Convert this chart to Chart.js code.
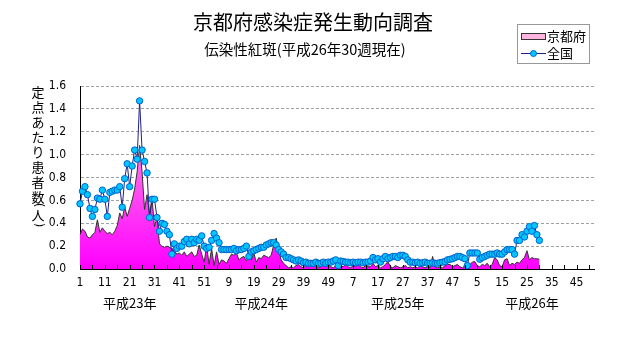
<!DOCTYPE html>
<html lang="ja">
<head>
<meta charset="utf-8">
<title>京都府感染症発生動向調査</title>
<script src="https://cdn.jsdelivr.net/npm/chart.js@4.4.1/dist/chart.umd.min.js"></script>
<style>
  html, body { margin: 0; padding: 0; background: #fff; }
  canvas { display: block; }
</style>
</head>
<body>
<canvas id="chart" width="631" height="347"></canvas>
<script>
/* ── 伝染性紅斑 定点あたり患者数 (京都府 / 全国) ───────────── */
const titleText    = "京都府感染症発生動向調査";
const subtitleText = "伝染性紅斑(平成26年30週現在)";
const yTitleChars  = ["定","点","あ","た","り","患","者","数"];
const years        = ["平成23年","平成24年","平成25年","平成26年"];
const weeksPerYear = 52;
const yTicks       = [0, 0.2, 0.4, 0.6, 0.8, 1.0, 1.2, 1.4, 1.6];

// 京都府 (weekly, per sentinel)
const kyoto2011 = [0.30,0.35,0.33,0.28,0.27,0.30,0.32,0.43,0.32,0.36,
                   0.33,0.31,0.32,0.30,0.33,0.38,0.49,0.44,0.54,0.46,
                   0.53,0.60,0.70,0.85,1.08,0.85,0.52,0.65,0.47,0.62,
                   0.37,0.45,0.22,0.20,0.19,0.20,0.19,0.18,0.16,0.13,
                   0.14,0.12,0.15,0.11,0.13,0.15,0.11,0.12,0.21,0.13,
                   0.06,0.20];
const kyoto2012 = [0.04,0.18,0.03,0.15,0.04,0.08,0.07,0.05,0.09,0.13,
                   0.12,0.14,0.08,0.10,0.11,0.07,0.12,0.08,0.14,0.06,
                   0.10,0.09,0.12,0.11,0.10,0.12,0.21,0.27,0.17,0.08,
                   0.05,0.03,0.01,0.02,0.01,0.03,0.04,0.02,0.01,0.03,
                   0.02,0.04,0.02,0.03,0.01,0.02,0.04,0.02,0.05,0.02,
                   0.01,0.03];
const kyoto2013 = [0.01,0.03,0.02,0.04,0.02,0.01,0.03,0.02,0.04,0.02,
                   0.01,0.03,0.02,0.02,0.05,0.02,0.03,0.01,0.02,0.04,
                   0.065,0.02,0.01,0.03,0.02,0.01,0.02,0.03,0.01,0.02,
                   0.01,0.02,0.01,0.03,0.02,0.01,0.02,0.01,0.11,0.02,
                   0.01,0.02,0.01,0.03,0.04,0.04,0.02,0.03,0.04,0.02,
                   0.01,0.03];
const kyoto2014 = [0.05,0.04,0.06,0.065,0.03,0.02,0.04,0.03,0.05,0.02,
                   0.04,0.10,0.08,0.03,0.02,0.08,0.09,0.03,0.05,0.04,
                   0.06,0.05,0.08,0.10,0.16,0.08,0.10,0.09,0.09,0.085];

// 全国
const zenkoku2011 = [0.57,0.68,0.72,0.65,0.53,0.46,0.52,0.62,0.61,0.69,
                     0.61,0.46,0.67,0.68,0.69,0.69,0.72,0.54,0.79,0.92,
                     0.72,0.90,1.04,0.96,1.47,1.04,0.94,0.84,0.45,0.61,
                     0.61,0.45,0.33,0.40,0.39,0.33,0.30,0.13,0.22,0.18,
                     0.20,0.20,0.24,0.26,0.22,0.26,0.23,0.26,0.25,0.29,
                     0.20,0.18];
const zenkoku2012 = [0.19,0.25,0.31,0.27,0.23,0.17,0.17,0.17,0.17,0.17,
                     0.18,0.16,0.17,0.17,0.18,0.20,0.11,0.15,0.16,0.17,
                     0.18,0.19,0.19,0.21,0.22,0.23,0.23,0.21,0.17,0.15,
                     0.13,0.10,0.10,0.09,0.08,0.07,0.08,0.07,0.055,0.06,
                     0.05,0.05,0.05,0.06,0.05,0.05,0.06,0.05,0.06,0.06,
                     0.07,0.08];
const zenkoku2013 = [0.03,0.07,0.065,0.06,0.06,0.055,0.06,0.055,0.06,0.06,
                     0.055,0.06,0.06,0.07,0.10,0.08,0.09,0.06,0.09,0.11,
                     0.09,0.10,0.11,0.11,0.10,0.12,0.12,0.11,0.08,0.06,
                     0.06,0.055,0.06,0.05,0.055,0.06,0.05,0.05,0.055,0.05,
                     0.05,0.055,0.06,0.065,0.08,0.085,0.09,0.10,0.11,0.11,
                     0.10,0.09];
const zenkoku2014 = [0.03,0.14,0.14,0.14,0.14,0.085,0.10,0.11,0.12,0.13,
                     0.13,0.13,0.14,0.13,0.13,0.15,0.17,0.17,0.17,0.13,
                     0.25,0.25,0.30,0.28,0.33,0.37,0.33,0.38,0.30,0.25];

// category labels: week numbers 1..52 for each year
const weekLabels = [];
years.forEach(() => { for (let w = 1; w <= weeksPerYear; w++) weekLabels.push(String(w)); });

// where each year caption sits (category index)
const yearLabelAt = [20, 73, 128, 182];

const kyoto   = [...kyoto2011, ...kyoto2012, ...kyoto2013, ...kyoto2014];
const zenkoku = [...zenkoku2011, ...zenkoku2012, ...zenkoku2013, ...zenkoku2014];

const JP  = '"Noto Sans CJK JP", "Noto Sans", sans-serif';
const NUM = '"Liberation Sans Narrow", "DejaVu Sans Condensed", "Liberation Sans", sans-serif';

function areaFill(ctx) {
  const area = ctx.chart.chartArea;
  if (!area) return "#ff33ff";
  const g = ctx.chart.ctx.createLinearGradient(0, area.top, 0, area.bottom);
  g.addColorStop(0, "#ffb4e0");
  g.addColorStop(1, "#ff00ff");
  return g;
}

// titles, legend box, vertical y title, year captions, inward tick marks
const decorations = {
  id: "decorations",
  afterDraw(chart) {
    const { ctx, chartArea, scales: { x } } = chart;
    ctx.save();

    ctx.strokeStyle = "#000";
    ctx.lineWidth = 1;
    ctx.beginPath();
    for (let i = 0; i < weekLabels.length; i += 5) {
      const px = Math.round(x.getPixelForValue(i)) + 0.5;
      ctx.moveTo(px, chartArea.bottom);
      ctx.lineTo(px, chartArea.bottom - 4);
    }
    ctx.stroke();

    ctx.fillStyle = "#000";
    ctx.textAlign = "center";
    ctx.textBaseline = "middle";
    ctx.font = "20px " + JP;
    ctx.fillText(titleText, 313, 22);
    ctx.font = "14.5px " + JP;
    ctx.fillText(subtitleText, 305, 49);

    ctx.font = "13px " + JP;
    years.forEach((t, k) => ctx.fillText(t, x.getPixelForValue(yearLabelAt[k]), 303));

    // vertical axis title
    ctx.font = "13px " + JP;
    yTitleChars.forEach((c, k) => ctx.fillText(c, 38, 92 + k * 15));
    ctx.fillText("人", 38, 215);
    [["(", 205], [")", 225]].forEach(([c, cy]) => {
      ctx.save();
      ctx.translate(38, cy);
      ctx.rotate(Math.PI / 2);
      ctx.font = "13px " + NUM;
      ctx.fillText(c, 0, 0);
      ctx.restore();
    });

    // legend
    ctx.fillStyle = "#fff";
    ctx.fillRect(517.5, 24.5, 72, 39);
    ctx.strokeStyle = "#999";
    ctx.strokeRect(517.5, 24.5, 72, 39);
    ctx.fillStyle = areaFill({ chart });
    ctx.fillRect(521.5, 33.5, 24, 6);
    ctx.strokeStyle = "#333";
    ctx.strokeRect(521.5, 33.5, 24, 6);
    ctx.strokeStyle = "#202080";
    ctx.beginPath();
    ctx.moveTo(521, 53.5);
    ctx.lineTo(546, 53.5);
    ctx.stroke();
    ctx.beginPath();
    ctx.arc(533.5, 53.5, 3, 0, Math.PI * 2);
    ctx.fillStyle = "#00c8ff";
    ctx.fill();
    ctx.strokeStyle = "#0060d0";
    ctx.stroke();
    ctx.fillStyle = "#000";
    ctx.textAlign = "left";
    ctx.font = "13px " + JP;
    ctx.fillText("京都府", 547, 36.5);
    ctx.fillText("全国", 547, 53.5);

    ctx.restore();
  }
};

new Chart(document.getElementById("chart"), {
  type: "line",
  data: {
    labels: weekLabels,
    datasets: [
      {
        label: "全国", data: zenkoku, order: 1,
        borderColor: "#202080", borderWidth: 1, tension: 0,
        pointRadius: 3.2, pointBorderWidth: 1,
        pointBackgroundColor: "#00c8ff", pointBorderColor: "#0060d0"
      },
      {
        label: "京都府", data: kyoto, order: 2,
        borderColor: "#333", borderWidth: 1, tension: 0,
        pointRadius: 0, fill: "origin", backgroundColor: areaFill
      }
    ]
  },
  options: {
    responsive: false,
    animation: false,
    layout: { padding: { top: 86, right: 37, left: 0, bottom: 0 } },
    plugins: { legend: { display: false }, tooltip: { enabled: false }, title: { display: false } },
    scales: {
      x: {
        offset: false,
        grid: { display: false, drawTicks: false },
        border: { display: true, color: "#000", width: 1 },
        ticks: {
          autoSkip: false, maxRotation: 0, minRotation: 0, padding: 7,
          color: "#000", font: { family: NUM, size: 12 },
          callback: (v, i) => (i % 10 === 0 ? weekLabels[i] : null)
        },
        afterFit: s => { s.height = 78; }
      },
      y: {
        min: 0, max: 1.6,
        afterBuildTicks: s => { s.ticks = yTicks.map(v => ({ value: v })); },
        grid: { color: "#a0a0a0", lineWidth: 1, drawTicks: false },
        border: { display: true, color: "#000", width: 1, dash: [3, 2] },
        ticks: {
          padding: 14, color: "#000", font: { family: NUM, size: 12 },
          callback: v => Number(v).toFixed(1)
        },
        afterFit: s => { s.width = 80; }
      }
    }
  },
  plugins: [decorations]
});
</script>
</body>
</html>
